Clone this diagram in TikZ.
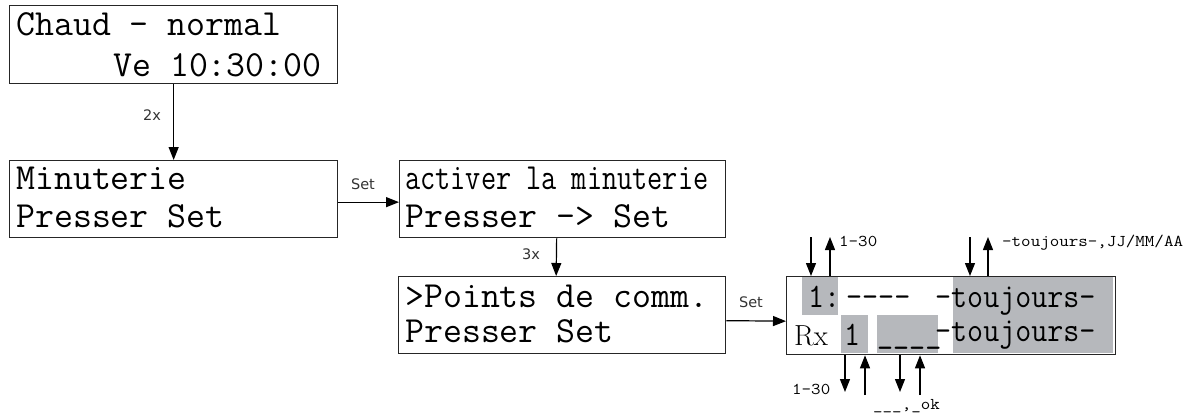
\documentclass[tikz,border=0pt]{standalone}
\usepackage{fontspec}
\usepackage{graphicx}
\newfontfamily\lblfont{DejaVu Sans}
\usetikzlibrary{arrows.meta}
\definecolor{hl}{RGB}{182,184,188}
\newcommand\sxs[1]{\scalebox{1.12}[1]{#1}}
\newcommand\cmp[1]{\scalebox{0.845}[0.93]{#1}}
\begin{document}
\begin{tikzpicture}[x=1bp,y=-1bp,
  lcd/.style={draw=black!85, line width=1.3bp, inner sep=0, anchor=north west},
  lcdtxt/.style={anchor=base west, inner sep=0, font=\fontsize{36.8bp}{40bp}\ttfamily},
  romtxt/.style={anchor=base west, inner sep=0, font=\fontsize{29bp}{32bp}\rmfamily},
  smalltxt/.style={anchor=base west, inner sep=0, font=\fontsize{16.5bp}{18bp}\ttfamily},
  lbl/.style={inner sep=0, text=black!80, font=\fontsize{14.5bp}{16bp}\lblfont},
  arr/.style={line width=1.2bp, -{Triangle[length=13bp,width=10bp]}},
  hlbox/.style={fill=hl, draw=none}]
\useasboundingbox (0,0) rectangle (1197,414);

% boxes
\node[lcd, minimum width=328bp, minimum height=78bp] (b1) at (9,5) {};
\node[lcd, minimum width=328bp, minimum height=77bp] (b2) at (9,160) {};
\node[lcd, minimum width=326bp, minimum height=77bp] (b3) at (399,160) {};
\node[lcd, minimum width=327bp, minimum height=77bp] (b4) at (398,276) {};

% highlights of box 5
\fill[hl] (802,277) rectangle (838,315);
\fill[hl] (953,277) rectangle (1113,353);
\fill[hl] (841,315) rectangle (868,353);
\fill[hl] (877,315) rectangle (938,353);
\node[lcd, minimum width=329bp, minimum height=78bp] (b5) at (786,276) {};

% texts
\node[lcdtxt] (t11) at (16,35) {Chaud - normal};
\node[lcdtxt] (t12) at (113,76) {Ve 10:30:00};
\node[lcdtxt] (t21) at (16,189) {Minuterie};
\node[lcdtxt] (t22) at (16,227) {Presser Set};
\node[lcdtxt] (t31) at (405,189) {\scalebox{0.80}[1]{activer la minuterie}};
\node[lcdtxt] (t32) at (405,227) {Presser -> Set};
\node[lcdtxt] (t41) at (405,307) {>Points de comm.};
\node[lcdtxt] (t42) at (405,342) {Presser Set};

\node[lcdtxt] (t51a) at (808,307) {\cmp{1:}};
\node[lcdtxt] (t51b) at (846,307) {\cmp{-{}-{}-{}-}};
\node[lcdtxt] (t51c) at (935,307) {\cmp{-toujours-}};
\node[romtxt] (t52a) at (794,345) {Rx};
\node[lcdtxt] (t52b) at (844,345) {\cmp{1}};
\node[lcdtxt] (t52c) at (877,342) {\cmp{\_\_\_\_}};
\node[lcdtxt] (t52d) at (935,341) {\cmp{-toujours-}};

% connectors
\draw[arr] (b1.south) -- (b2.north);
\node[lbl] (l1) at (152,115) {2x};
\draw[arr] ([yshift=-3bp]b2.east) -- ([yshift=-3bp]b3.west);
\node[lbl] (l2) at (363,184) {Set};
\draw[arr] ([xshift=-6bp]b3.south) -- ([xshift=-6bp]b4.north);
\node[lbl] (l3) at (531,254) {3x};
\draw[arr] ([yshift=-5.5bp]b4.east) -- ([yshift=-5.5bp]b5.west);
\node[lbl] (l4) at (751,302) {Set};

% box 5 small arrows
\coordinate (a1) at (811,237);
\coordinate (a2) at (830,237);
\coordinate (a3) at (970,237);
\coordinate (a4) at (988,237);
\coordinate (c1) at (845,392);
\coordinate (c2) at (865,395);
\coordinate (c3) at (900,392);
\coordinate (c4) at (920,395);
\draw[arr] (a1) -- (a1 |- b5.north);
\draw[arr] (a2 |- b5.north) -- (a2);
\draw[arr] (a3) -- (a3 |- b5.north);
\draw[arr] (a4 |- b5.north) -- (a4);
\draw[arr] (c1 |- b5.south) -- (c1);
\draw[arr] (c2) -- (c2 |- b5.south);
\draw[arr] (c3 |- b5.south) -- (c3);
\draw[arr] (c4) -- (c4 |- b5.south);

\node[smalltxt] (s1) at (839,246) {\sxs{1-30}};
\node[smalltxt] (s2) at (1002,246) {\sxs{-toujours-,JJ/MM/AA}};
\node[smalltxt] (s3) at (792,394) {\sxs{1-30}};
\node[smalltxt] (s4) at (873,409) {\sxs{\_\_\_,\_ok}};
\end{tikzpicture}
\end{document}
